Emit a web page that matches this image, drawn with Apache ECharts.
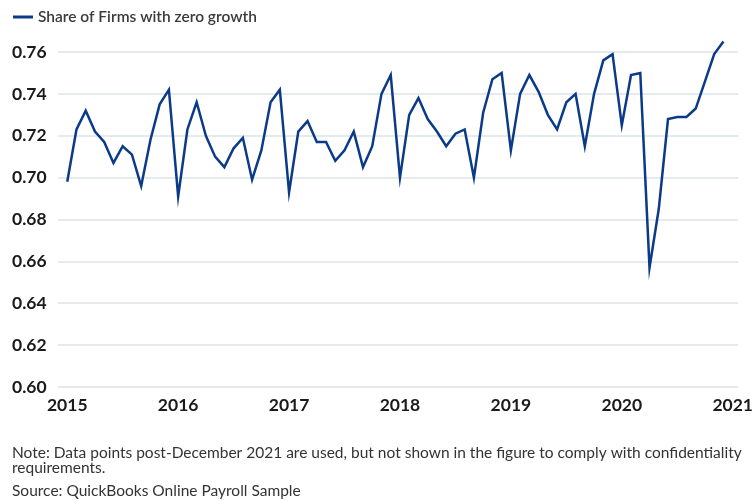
<!DOCTYPE html>
<html>
<head>
<meta charset="utf-8">
<script src="https://cdn.jsdelivr.net/npm/echarts@6/dist/echarts.min.js"></script>
<style>
html,body{margin:0;padding:0;background:#fff;}
#chart{width:756px;height:500px;}
</style>
</head>
<body>
<div id="chart"></div>
<script>
var seriesName = 'Share of Firms with zero growth';
var yearLabels = ['2015','2016','2017','2018','2019','2020','2021'];
// monthly values, Jan 2015 .. Dec 2020
var values2015 = [0.698,0.723,0.732,0.722,0.717,0.707,0.715,0.711,0.696,0.718,0.735,0.742];
var values2016 = [0.691,0.723,0.736,0.720,0.710,0.705,0.714,0.719,0.699,0.713,0.736,0.742];
var values2017 = [0.693,0.722,0.727,0.717,0.717,0.708,0.713,0.722,0.705,0.715,0.740,0.749];
var values2018 = [0.700,0.730,0.738,0.728,0.722,0.715,0.721,0.723,0.700,0.731,0.747,0.750];
var values2019 = [0.713,0.740,0.749,0.741,0.730,0.723,0.736,0.740,0.715,0.740,0.756,0.759];
var values2020 = [0.725,0.749,0.750,0.657,0.685,0.728,0.729,0.729,0.733,0.746,0.759,0.765];
var yTicks = [0.60,0.62,0.64,0.66,0.68,0.70,0.72,0.74,0.76];

var allValues = [].concat(values2015, values2016, values2017, values2018, values2019, values2020);
var data = allValues.map(function (v, i) { return [i, v]; });
var yearTickPos = yearLabels.map(function (y, i) { return i * 12; });

var chart = echarts.init(document.getElementById('chart'));
var font = 'Lato, "Open Sans", sans-serif';
chart.setOption({
  animation: false,
  textStyle: { fontFamily: font },
  grid: { left: 58, right: 17, top: 52, bottom: 113, containLabel: false },
  legend: {
    left: 8, top: 4,
    itemWidth: 20, itemHeight: 3, itemGap: 10,
    icon: 'rect',
    textStyle: { fontFamily: font, fontSize: 15.5, fontWeight: 600, color: '#3a3a3a' },
    data: [seriesName]
  },
  xAxis: {
    type: 'value',
    min: -1, max: 72.6,
    axisLine: { show: false },
    axisTick: { show: false },
    splitLine: { show: false },
    axisLabel: {
      customValues: yearTickPos,
      formatter: function (v) { return yearLabels[Math.round(v / 12)]; },
      fontSize: 17.5, fontWeight: 'bold', color: '#1a1a1a', margin: 9,
      fontFamily: font
    }
  },
  yAxis: {
    type: 'value',
    min: yTicks[0], max: yTicks[yTicks.length - 1], interval: 0.02,
    axisLine: { show: false },
    axisTick: { show: false },
    splitLine: { lineStyle: { color: '#dce3ea', width: 1.5 } },
    axisLabel: {
      formatter: function (v) { return v.toFixed(2); },
      align: 'left', margin: 46,
      fontSize: 17.5, fontWeight: 'bold', color: '#1a1a1a', fontFamily: font
    }
  },
  series: [{
    name: seriesName,
    type: 'line',
    data: data,
    clip: false,
    showSymbol: false,
    symbol: 'none',
    lineStyle: { color: '#0a3a88', width: 2.5, join: 'miter' },
    itemStyle: { color: '#0a3a88' }
  }],
  graphic: [
    { type: 'text', left: 12, top: 445,
      style: { text: 'Note: Data points post-December 2021 are used, but not shown in the figure to comply with confidentiality\nrequirements.',
        font: '15.5px ' + font, fill: '#333', lineHeight: 14.5 } },
    { type: 'text', left: 12, top: 483,
      style: { text: 'Source: QuickBooks Online Payroll Sample', font: '15.5px ' + font, fill: '#333' } }
  ]
});
</script>
</body>
</html>
